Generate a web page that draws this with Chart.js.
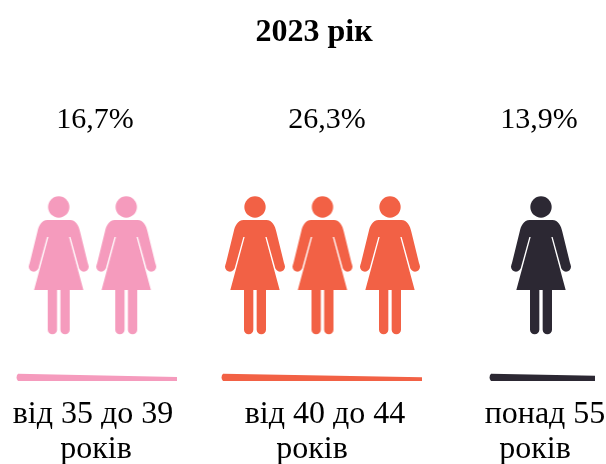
<!DOCTYPE html>
<html><head><meta charset="utf-8">
<style>html,body{margin:0;padding:0;background:#fff}#w{width:606px;height:464px;position:relative}</style>
<script src="https://cdn.jsdelivr.net/npm/chart.js@4"></script>
</head><body><div id="w"><canvas id="c"></canvas></div>
<script>
// Data
const chartTitle = '2023 рік';
const categories = ['від 35 до 39', 'від 40 до 44', 'понад 55'];
const categoryUnits = ['років', 'років', 'років'];
const percentValues = [16.7, 26.3, 13.9];
const figureCounts = [2, 3, 1];

// Layout and style
const groupColors = ['#F59BBD', '#F26145', '#2C2833'];
const figureCenters = [92.5, 322.5, 541];
const figureSpacing = 67.5;
const figureRowY = 265;
const percentCenters = [95, 327, 539];
const percentRowY = 120;
const tickCenters = [93, 325, 545];
const unitCenters = [96, 312, 535];
const wedgeStart = [16, 221, 489];
const wedgeEnd = [177, 422, 595];
const wedgeBottomY = 381;
const wedgeLeftTopY = 373.7;
const wedgeRightTopY = [377, 377.3, 375.7];
const serif = '"Liberation Serif","Times New Roman",serif';

function figureCanvas(color){
  const W = 70, H = 150, c = document.createElement('canvas');
  c.width = W; c.height = H;
  const g = c.getContext('2d');
  g.translate(W/2, H/2);
  g.scale(1/3, 1/3);
  g.translate(0, -240);
  g.fillStyle = color;
  g.beginPath(); g.arc(0, 66, 32, 0, Math.PI*2); g.fill();
  for (const s of [1, -1]) {
    g.beginPath();
    g.moveTo(0, 105);
    g.lineTo(s*34, 105);
    g.bezierCurveTo(s*52, 106, s*60, 122, s*64, 140);
    g.lineTo(s*87, 234);
    g.arc(s*75, 245, 15, s>0 ? -0.4 : Math.PI+0.4, s>0 ? Math.PI-0.1 : 0.1, s<0);
    g.lineTo(s*35, 156);
    g.lineTo(s*31, 156);
    g.lineTo(s*74, 315);
    g.lineTo(s*33, 315);
    g.lineTo(s*33, 434);
    g.arc(s*19, 434, 14, s>0 ? 0 : Math.PI, s>0 ? Math.PI : 0, s<0);
    g.lineTo(s*5, 315);
    g.lineTo(0, 315);
    g.closePath();
    g.fill();
  }
  return c;
}

const figureDatasets = categories.map((_, k) => {
  const pts = [];
  for (let i = 0; i < figureCounts[k]; i++) {
    pts.push({x: figureCenters[k] + (i - (figureCounts[k]-1)/2) * figureSpacing, y: figureRowY});
  }
  return {
    data: pts,
    pointStyle: figureCanvas(groupColors[k]),
    pointRadius: 30,
    pointHoverRadius: 30,
    backgroundColor: groupColors[k],
    clip: false
  };
});

const annotate = {
  id: 'annotate',
  afterDatasetsDraw(chart){
    const {ctx, scales:{x, y}} = chart;
    ctx.save();
    categories.forEach((_, k) => {
      const x0 = x.getPixelForValue(wedgeStart[k]), x1 = x.getPixelForValue(wedgeEnd[k]);
      const yb = y.getPixelForValue(wedgeBottomY), yl = y.getPixelForValue(wedgeLeftTopY), yr = y.getPixelForValue(wedgeRightTopY[k]);
      ctx.fillStyle = groupColors[k];
      ctx.beginPath();
      ctx.moveTo(x0+2, yl);
      ctx.lineTo(x1, yr);
      ctx.lineTo(x1, yb);
      ctx.lineTo(x0+2, yb);
      ctx.quadraticCurveTo(x0-1, (yl+yb)/2, x0+2, yl);
      ctx.closePath();
      ctx.fill();
      ctx.fillStyle = '#000';
      ctx.font = '30px ' + serif;
      ctx.textAlign = 'center';
      ctx.textBaseline = 'middle';
      ctx.fillText(percentValues[k].toFixed(1).replace('.', ',') + '%', x.getPixelForValue(percentCenters[k]), y.getPixelForValue(percentRowY));
    });
    ctx.restore();
  }
};

function labelAxis(centers, labels, height){
  return {
    type: 'linear',
    position: 'bottom',
    min: 22, max: 606,
    grid: {display: false, drawTicks: false},
    border: {display: false},
    afterBuildTicks(s){ s.ticks = [22, ...centers, 606].map(v => ({value: v})); },
    afterFit(s){ s.height = height; },
    ticks: {
      autoSkip: false, maxRotation: 0, minRotation: 0, padding: 0,
      color: '#000',
      font: {family: serif, size: 32, lineHeight: 1.2},
      callback(v){ const i = centers.indexOf(v); return i < 0 ? '' : labels[i]; }
    }
  };
}

new Chart(document.getElementById('c'), {
  type: 'scatter',
  data: {datasets: figureDatasets},
  plugins: [annotate],
  options: {
    responsive: true,
    maintainAspectRatio: false,
    animation: false,
    layout: {autoPadding: false, padding: {left: 22, right: 0, top: 0, bottom: 0}},
    plugins: {
      legend: {display: false},
      tooltip: {enabled: false},
      title: {
        display: true,
        text: chartTitle,
        color: '#000',
        font: {family: serif, size: 32, weight: 'bold', lineHeight: 1.2},
        padding: {top: 14, bottom: 0}
      }
    },
    scales: {
      x: labelAxis(tickCenters, categories, 35),
      x2: labelAxis(unitCenters, categoryUnits, 34),
      y: {type: 'linear', reverse: true, min: 52.4, max: 395, display: false}
    }
  }
});
</script></body></html>
